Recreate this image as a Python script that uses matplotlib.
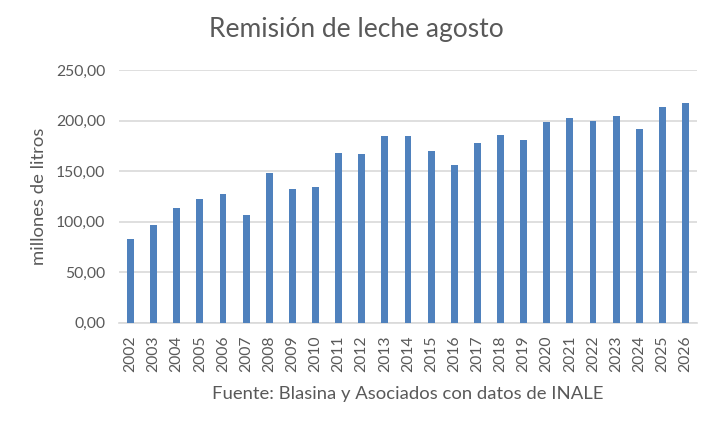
import matplotlib
matplotlib.use('Agg')
import matplotlib.pyplot as plt
from matplotlib.ticker import FuncFormatter

years = [str(y) for y in range(2002, 2027)]
remision = [82.8, 96.6, 113.4, 122.3, 127.3, 106.5, 148.0, 132.2, 134.2, 167.8,
            166.9, 184.7, 184.7, 169.8, 156.0, 177.9, 185.7, 180.7, 198.5, 202.5,
            199.5, 204.5, 191.6, 213.4, 217.4]
y_ticks = [0, 50, 100, 150, 200, 250]

plt.rcParams['font.family'] = ['Lato', 'DejaVu Sans']
gris = '#595959'

fig = plt.figure(figsize=(7.12, 4.26), dpi=100)
ax = fig.add_axes([0.167, 0.2425, 0.812, 0.593])

x = range(len(years))
ax.bar(x, remision, width=0.3, color='#4F81BD', zorder=3)

ax.set_xlim(-0.5, len(years) - 0.5)
ax.set_ylim(0, 250)
ax.set_yticks(y_ticks)
ax.yaxis.set_major_formatter(FuncFormatter(lambda v, p: f'{v:.2f}'.replace('.', ',')))
ax.set_xticks(list(x))
ax.set_xticklabels(years, rotation=90)

ax.grid(axis='y', color='#D9D9D9', linewidth=1.2, zorder=0)
for s in ['top', 'right', 'left']:
    ax.spines[s].set_visible(False)
ax.spines['bottom'].set_color('#D9D9D9')
ax.spines['bottom'].set_linewidth(1.2)
ax.tick_params(axis='both', length=0, colors=gris, labelsize=11.3)
ax.tick_params(axis='y', pad=10)
ax.tick_params(axis='x', pad=9)

ax.set_ylabel('millones de litros', fontsize=13.3, color=gris, labelpad=6)
ax.set_xlabel('Fuente: Blasina y Asociados con datos de INALE', fontsize=13.3, color=gris, labelpad=10)
fig.text(0.5, 0.93, 'Remisión de leche agosto', ha='center', va='center', fontsize=19, color=gris)

fig.savefig('out.png', dpi=100)
